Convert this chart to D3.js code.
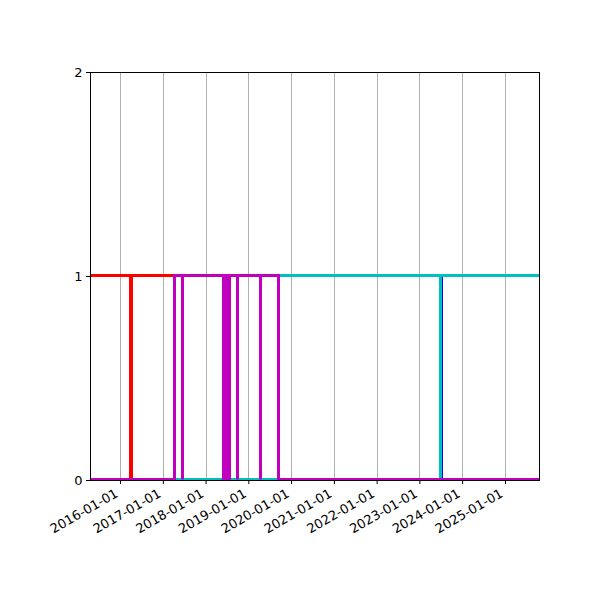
<!DOCTYPE html>
<html>
<head>
<meta charset="utf-8">
<script src="https://cdn.jsdelivr.net/npm/d3@7"></script>
<style>
  body { margin: 0; background: #fff; }
  text { font-family: "DejaVu Sans", sans-serif; }
</style>
</head>
<body>
<div id="chart"></div>
<script>
// axis range and ticks
const xStart = "2015-04-20";
const xEnd = "2025-10-27";
const xTickDates = ["2016-01-01", "2017-01-01", "2018-01-01", "2019-01-01", "2020-01-01",
                    "2021-01-01", "2022-01-01", "2023-01-01", "2024-01-01", "2025-01-01"];
const yTicks = [0, 1, 2];

// each series is a 0/1 step (value holds until the next date)
const greenDates = ["2015-04-20", "2016-04-06", "2017-04-05", "2025-10-27"];
const greenValues = [0, 1, 0, 0];

const redDates = ["2015-04-20", "2016-03-30", "2016-03-31", "2017-04-05", "2025-10-27"];
const redValues = [1, 0, 1, 0, 0];

const blueDates = ["2015-04-20", "2023-07-05", "2025-10-27"];
const blueValues = [0, 1, 1];

const cyanDates = ["2015-04-20", "2019-09-12", "2023-06-26", "2023-06-27", "2025-10-27"];
const cyanValues = [0, 1, 0, 1, 1];

const magentaDates = ["2015-04-20", "2017-04-06", "2017-06-10", "2017-06-14",
                      "2018-05-28", "2018-06-05", "2018-06-10", "2018-06-20",
                      "2018-06-26", "2018-07-06", "2018-07-12", "2018-07-20",
                      "2018-09-24", "2018-09-28", "2019-04-09", "2019-04-13",
                      "2019-09-11", "2025-10-27"];
const magentaValues = [0, 1, 0, 1,
                       0, 1, 0, 1,
                       0, 1, 0, 1,
                       0, 1, 0, 1,
                       0, 0];

const parse = d3.timeParse("%Y-%m-%d");
const series = [
  { color: "#008000", dates: greenDates, values: greenValues },
  { color: "#ff0000", dates: redDates, values: redValues },
  { color: "#0000ff", dates: blueDates, values: blueValues },
  { color: "#00bfbf", dates: cyanDates, values: cyanValues },
  { color: "#bf00bf", dates: magentaDates, values: magentaValues }
];

const margin = { top: 72, right: 60, bottom: 120, left: 90 };
const width = 600 - margin.left - margin.right;
const height = 600 - margin.top - margin.bottom;

const svg = d3.select("#chart")
  .append("svg")
  .attr("width", 600)
  .attr("height", 600);

const g = svg.append("g")
  .attr("transform", "translate(" + margin.left + "," + margin.top + ")");

const x = d3.scaleTime()
  .domain([parse(xStart), parse(xEnd)])
  .range([0, width]);

const y = d3.scaleLinear()
  .domain([0, 2])
  .range([height, 0]);

g.append("clipPath")
  .attr("id", "clip")
  .append("rect")
  .attr("width", width)
  .attr("height", height);

// vertical grid only
g.selectAll(".grid")
  .data(xTickDates.map(parse))
  .enter()
  .append("line")
  .attr("x1", d => Math.round(x(d)) + 0.5)
  .attr("x2", d => Math.round(x(d)) + 0.5)
  .attr("y1", 0)
  .attr("y2", height)
  .attr("stroke", "#b0b0b0")
  .attr("stroke-width", 1);

// lines snapped to the pixel grid, like matplotlib does
const line = d3.line()
  .x(d => Math.round(x(d.date)) + 0.5)
  .y(d => Math.round(y(d.value)) - 0.5)
  .curve(d3.curveStepAfter);

series.forEach(s => {
  const pts = s.dates.map((d, i) => ({ date: parse(d), value: s.values[i] }));
  g.append("path")
    .datum(pts)
    .attr("clip-path", "url(#clip)")
    .attr("fill", "none")
    .attr("stroke", s.color)
    .attr("stroke-width", 3)
    .attr("d", line);
});

// frame
g.append("rect")
  .attr("x", 0.5)
  .attr("y", 0.5)
  .attr("width", width - 1)
  .attr("height", height)
  .attr("fill", "none")
  .attr("stroke", "#000")
  .attr("stroke-width", 1);

// x axis
const xAxis = g.append("g")
  .attr("transform", "translate(0," + height + ")")
  .call(d3.axisBottom(x)
    .tickValues(xTickDates.map(parse))
    .tickFormat(d3.timeFormat("%Y-%m-%d"))
    .tickSize(4)
    .tickPadding(3.5));
xAxis.select(".domain").remove();
xAxis.selectAll("text")
  .attr("font-size", 13)
  .attr("fill", "#000")
  .attr("text-anchor", "end")
  .attr("dy", null)
  .attr("y", null)
  .attr("transform", "translate(-1.5,16) rotate(-30)");

// y axis
const yAxis = g.append("g")
  .call(d3.axisLeft(y)
    .tickValues(yTicks)
    .tickFormat(d3.format("d"))
    .tickSize(4)
    .tickPadding(3.5));
yAxis.select(".domain").remove();
yAxis.selectAll("text")
  .attr("font-size", 13)
  .attr("fill", "#000");
</script>
</body>
</html>
